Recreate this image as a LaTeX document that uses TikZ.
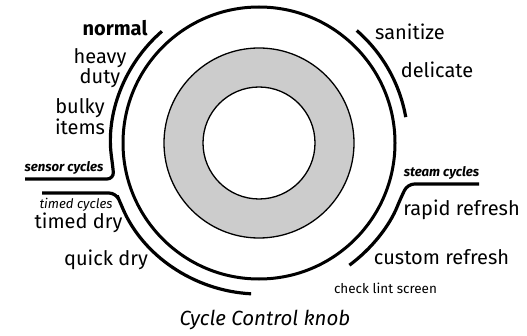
\documentclass[tikz,border=0pt]{standalone}
\usepackage{fontspec}
\setmainfont{Fira Sans}
\usetikzlibrary{calc}
\begin{document}
\begin{tikzpicture}[x=1pt,y=1pt,
  lbl/.style={font=\fontsize{20}{19}\selectfont, inner sep=0pt, align=center},
  small/.style={font=\fontsize{13.2}{14}\selectfont\itshape, inner sep=0pt},
  arcline/.style={line width=3.2pt, line cap=butt, rounded corners=7pt},
  knob/.style={line width=3pt}]
\useasboundingbox (0,0) rectangle (527,335);
\coordinate (C) at (259,192);
% knob
\draw[knob] (C) circle (136);
\draw[line width=1.3pt, fill=gray!40] (C) circle (95);
\draw[line width=1.3pt, fill=white] (C) circle (56);
% left: sensor cycles
\coordinate (sensEnd) at (25,156);
\draw[arcline] ($(C)+(131:148)$) arc (131:188:148) -- (114,156) -- (sensEnd);
% left: timed cycles
\coordinate (timStart) at (42,142);
\draw[arcline] (timStart) -- (116,142) -- ($(C)+(203:151)$) arc (203:267:151);
% right: sanitize / delicate
\draw[arcline] ($(C)+(49:149)$) arc (49:10:149);
% right: steam cycles
\coordinate (stmStart) at (479,151);
\draw[arcline] (stmStart) -- (407.5,151) -- ($(C)+(-22:152)$) arc (-22:-53.5:152);
% labels
\node[lbl, font=\fontsize{20}{19}\selectfont\bfseries] (normal) at (115,307) {normal};
\node[lbl] (heavy) at (100,267) {heavy\\duty};
\node[lbl] (bulky) at (80,218) {bulky\\items};
\node[small, font=\fontsize{13.2}{14}\selectfont\itshape\bfseries] (sensor) at (64,167) {sensor cycles};
\node[small] (timedc) at (76,130) {timed cycles};
\node[lbl] (timed) at (78.5,112) {timed dry};
\node[lbl] (quick) at (106,75) {quick dry};
\node[lbl] (sanit) at (410,303) {sanitize};
\node[lbl] (delic) at (437,265) {delicate};
\node[small, font=\fontsize{13.2}{14}\selectfont\itshape\bfseries] (steam) at (441.5,162) {steam cycles};
\node[lbl] (rapid) at (461.5,125) {rapid refresh};
\node[lbl] (custom) at (441.5,78) {custom refresh};
\node[small, font=\fontsize{13.5}{14}\selectfont] (lint) at (385.5,47) {check lint screen};
\node[lbl, font=\fontsize{20.5}{19}\selectfont\itshape] (cap) at (265,15) {Cycle Control knob};
\end{tikzpicture}
\end{document}
